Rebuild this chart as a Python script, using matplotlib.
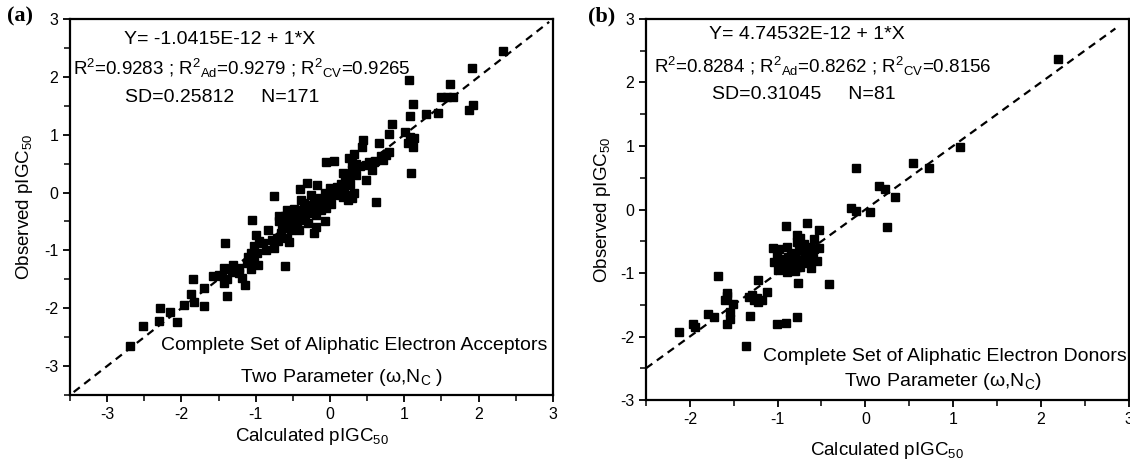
import numpy as np
import matplotlib
matplotlib.use("Agg")
import matplotlib.pyplot as plt
from matplotlib.ticker import MultipleLocator

plt.rcParams['font.family'] = ['Liberation Sans', 'DejaVu Sans']
plt.rcParams['mathtext.fontset'] = 'custom'
plt.rcParams['mathtext.rm'] = 'Liberation Sans'
plt.rcParams['mathtext.it'] = 'Liberation Sans:italic'
plt.rcParams['mathtext.default'] = 'regular'
plt.rcParams['axes.unicode_minus'] = False

# (a) aliphatic electron acceptors: calculated vs observed pIGC50
calc_a = [2.33, 1.91, 1.06, 1.61, 1.50, 1.58, 1.65, 1.12, 1.93, 1.87, 1.29, 1.46, 1.07, 0.84,
          0.79, 1.01, 1.08, 1.13, 1.05, 1.12, 1.09, 0.44, 0.43, 0.66, 0.79, 0.68, 0.71, 0.59,
          0.56, 0.48, 0.49, 0.62, 0.32, 0.25, 0.29, 0.35, 0.29, 0.17, 0.24, 0.22, 0.19, 0.32,
          0.22, 0.24, 0.29, 0.17, 0.10, -0.06, 0.05, 0.00, -0.07, -0.02, -0.05, -0.13, -0.07,
          -0.17, -0.31, -0.41, -0.19, -0.19, -0.22, -0.26, -0.27, -0.22, -0.29, -0.34, -0.39,
          -0.41, -0.44, -0.49, -0.51, -0.53, -0.58, -0.61, -0.63, -0.66, -0.55, -0.70, -0.76,
          -0.68, -0.75, -0.61, -0.83, -0.86, -1.05, -1.00, -0.95, -1.02, -1.07, -1.04, -0.97,
          -1.07, -1.12, -1.14, -1.19, -1.23, -1.41, -1.31, -1.36, -1.43, -1.46, -1.39, -1.43,
          -1.39, -1.58, -1.69, -1.70, -1.85, -1.87, -1.83, -1.97, -2.06, -2.16, -2.29, -2.30,
          -2.52, -2.69,
          -0.45, -0.38, -0.32, -0.25, -0.15, -0.12, -0.08, -0.02, 0.05, 0.08, 0.12, 0.15,
          -0.55, -0.60, -0.65, -0.72, -0.78, -0.50, -0.48, -0.35, -0.30, -0.42, -0.90, -0.98,
          -1.10, -1.02, -0.58, -0.68, -0.22, 0.02, 0.35, 0.40, 0.52, 0.60, 0.75, 0.27, -1.32,
          -1.50, -1.22, 0.20]
obs_a = [2.45, 2.16, 1.95, 1.87, 1.66, 1.66, 1.66, 1.53, 1.51, 1.42, 1.35, 1.37, 1.33, 1.19,
         1.02, 1.05, 0.96, 0.94, 0.85, 0.78, 0.33, 0.91, 0.79, 0.85, 0.70, 0.63, 0.56, 0.52,
         0.39, 0.48, 0.22, -0.17, 0.67, 0.59, 0.51, 0.49, 0.39, 0.34, 0.28, 0.13, 0.05, 0.00,
         -0.04, -0.13, -0.10, -0.07, 0.10, 0.52, 0.55, 0.07, -0.01, -0.13, -0.27, -0.10, -0.50,
         0.13, 0.16, 0.06, -0.38, -0.59, -0.70, -0.04, -0.21, -0.27, -0.33, -0.47, -0.13,
         -0.30, -0.44, -0.36, -0.50, -0.64, -0.30, -0.41, -0.59, -0.70, -0.86, -0.84, -0.06,
         -0.50, -0.96, -1.27, -0.64, -0.99, -0.48, -0.73, -0.84, -0.93, -1.04, -1.16, -1.25,
         -1.33, -1.22, -1.60, -1.48, -1.39, -0.87, -1.25, -1.33, -1.30, -1.45, -1.50, -1.56,
         -1.79, -1.44, -1.65, -1.96, -1.50, -1.75, -1.89, -1.95, -2.24, -2.06, -2.00, -2.22,
         -2.31, -2.66,
         -0.55, -0.42, -0.25, -0.35, -0.22, -0.30, -0.15, -0.05, 0.02, -0.05, 0.05, 0.15,
         -0.62, -0.48, -0.62, -0.78, -0.82, -0.40, -0.28, -0.18, -0.52, -0.65, -0.88, -1.05,
         -1.12, -1.20, -0.78, -0.40, -0.12, -0.20, 0.30, 0.45, 0.52, 0.55, 0.65, 0.15, -1.38,
         -1.42, -1.30, 0.22]

# (b) aliphatic electron donors
calc_b = [2.20, 1.08, 0.54, 0.72, -0.11, 0.15, 0.22, 0.34, -0.16, -0.11, 0.05, 0.25, -0.90,
          -0.67, -0.53, -0.59, -0.78, -0.78, -0.89, -1.05, -0.53, -0.63, -0.72, -0.80, -1.01,
          -0.88, -0.60, -0.55, -1.04, -0.96, -0.86, -0.78, -0.92, -0.62, -0.72, -0.99, -0.89,
          -0.80, -0.41, -0.77, -1.22, -1.68, -1.12, -1.29, -1.24, -1.18, -1.27, -1.58, -1.60,
          -1.51, -1.54, -1.54, -1.58, -1.79, -1.73, -1.96, -1.94, -2.12, -1.31, -1.01, -0.90,
          -0.78, -1.36,
          -0.95, -0.85, -0.70, -0.75, -0.65, -0.98, -0.84, -0.92, -0.68, -0.58, -1.33, -1.22,
          -1.58, -0.80, -0.76, -0.86, -0.74]
obs_b = [2.37, 0.99, 0.74, 0.65, 0.66, 0.37, 0.33, 0.19, 0.02, -0.02, -0.04, -0.27, -0.26,
         -0.22, -0.33, -0.47, -0.40, -0.51, -0.59, -0.60, -0.61, -0.59, -0.64, -0.69, -0.72,
         -0.75, -0.77, -0.81, -0.82, -0.85, -0.88, -0.90, -0.93, -0.92, -0.80, -0.96, -0.98,
         -0.97, -1.18, -1.15, -1.11, -1.05, -1.30, -1.35, -1.39, -1.42, -1.43, -1.31, -1.42,
         -1.49, -1.61, -1.73, -1.80, -1.64, -1.69, -1.81, -1.85, -1.93, -1.68, -1.80, -1.78,
         -1.70, -2.15,
         -0.78, -0.70, -0.55, -0.45, -0.85, -0.62, -0.82, -0.86, -0.72, -0.62, -1.38, -1.45,
         -1.36, -0.83, -0.55, -0.92, -0.90]

fig = plt.figure(figsize=(11.3, 4.61), dpi=100)
ax1 = fig.add_axes([0.0619, 0.1432, 0.4274, 0.8156])
ax2 = fig.add_axes([0.5717, 0.1323, 0.4270, 0.8265])


def style(ax, xlim, ylim):
    ax.set_xlim(*xlim)
    ax.set_ylim(*ylim)
    ax.xaxis.set_major_locator(MultipleLocator(1))
    ax.yaxis.set_major_locator(MultipleLocator(1))
    ax.xaxis.set_minor_locator(MultipleLocator(0.5))
    ax.yaxis.set_minor_locator(MultipleLocator(0.5))
    ax.tick_params(which='major', direction='out', length=5, width=1.3, labelsize=11.5)
    ax.tick_params(which='minor', direction='out', length=4, width=1.1)
    ax.tick_params(top=False, right=False)
    for s in ax.spines.values():
        s.set_linewidth(1.6)
    ax.set_xlabel('Calculated pIGC$_{50}$', fontsize=13.5)
    ax.set_ylabel('Observed pIGC$_{50}$', fontsize=13.5)


# panel (a)
style(ax1, (-3.5, 3), (-3.5, 3))
ax1.plot([-3.45, 2.95], [-3.45, 2.95], color='black', ls=(0, (3.5, 2.5)), lw=1.6)
ax1.plot(calc_a, obs_a, ls='none', marker='s', ms=5.6, color='black')
ax1.text(-1.48, 2.64, 'Y= -1.0415E-12 + 1*X', ha='center', va='center', fontsize=14)
ax1.text(-1.19, 2.14, 'R$^2$=0.9283 ; R$^2$$_{Ad}$=0.9279 ; R$^2$$_{CV}$=0.9265',
         ha='center', va='center', fontsize=13.5)
ax1.text(-1.45, 1.64, 'SD=0.25812     N=171', ha='center', va='center', fontsize=14)
ax1.text(0.33, -2.65, 'Complete Set of Aliphatic Electron Acceptors', ha='center', va='center',
         fontsize=14)
ax1.text(0.15, -3.2, 'Two Parameter (\u03c9,N$_C$ )', ha='center', va='center', fontsize=14)
ax1.xaxis.set_label_coords(0.5, -0.082)
ax1.yaxis.set_label_coords(-0.072, 0.5)

# panel (b)
style(ax2, (-2.5, 3), (-3, 3))
ax2.plot([-2.5, 2.85], [-2.5, 2.85], color='black', ls=(0, (3.5, 2.5)), lw=1.6)
ax2.plot(calc_b, obs_b, ls='none', marker='s', ms=5.6, color='black')
ax2.text(-0.67, 2.75, 'Y= 4.74532E-12 + 1*X', ha='center', va='center', fontsize=14)
ax2.text(-0.48, 2.25, 'R$^2$=0.8284 ; R$^2$$_{Ad}$=0.8262 ; R$^2$$_{CV}$=0.8156',
         ha='center', va='center', fontsize=13.5)
ax2.text(-0.70, 1.81, 'SD=0.31045     N=81', ha='center', va='center', fontsize=14)
ax2.text(0.91, -2.31, 'Complete Set of Aliphatic Electron Donors', ha='center', va='center',
         fontsize=14)
ax2.text(0.88, -2.71, 'Two Parameter (\u03c9,N$_C$)', ha='center', va='center', fontsize=14)
ax2.xaxis.set_label_coords(0.5, -0.105)
ax2.yaxis.set_label_coords(-0.068, 0.5)

fig.text(0.006, 0.965, '(a)', fontsize=16, fontweight='bold', family='Liberation Serif', va='center')
fig.text(0.520, 0.965, '(b)', fontsize=16, fontweight='bold', family='Liberation Serif', va='center')

fig.savefig('out.png', dpi=100)
